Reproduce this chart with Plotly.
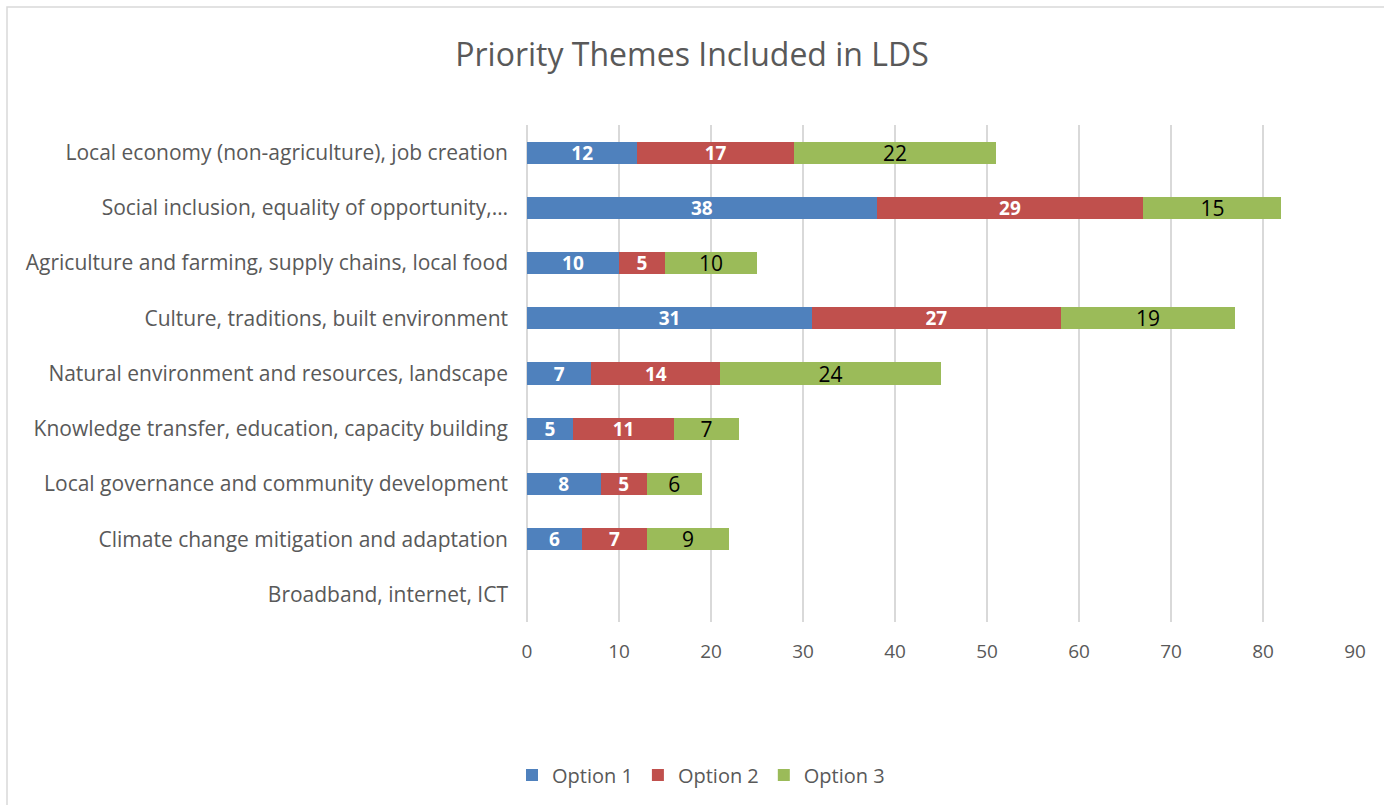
import plotly.graph_objects as go

# Themes, listed top to bottom as shown on the chart
themes = [
    "Local economy (non-agriculture), job creation",
    "Social inclusion, equality of opportunity,…",
    "Agriculture and farming, supply chains, local food",
    "Culture, traditions, built environment",
    "Natural environment and resources, landscape",
    "Knowledge transfer, education, capacity building",
    "Local governance and community development",
    "Climate change mitigation and adaptation",
    "Broadband, internet, ICT",
]

option1 = [12, 38, 10, 31, 7, 5, 8, 6, None]
option2 = [17, 29, 5, 27, 14, 11, 5, 7, None]
option3 = [22, 15, 10, 19, 24, 7, 6, 9, None]

x_ticks = [0, 10, 20, 30, 40, 50, 60, 70, 80, 90]

FONT = "Open Sans"
series = [
    ("Option 1", option1, "#4F81BD", "white", True),
    ("Option 2", option2, "#C0504D", "white", True),
    ("Option 3", option3, "#9BBB59", "black", False),
]

fig = go.Figure()
for name, vals, color, tcolor, bold in series:
    fig.add_trace(go.Bar(
        name=name,
        y=themes,
        x=vals,
        orientation="h",
        marker=dict(color=color, line=dict(width=0)),
        text=[("" if v is None else str(v)) for v in vals],
        texttemplate=("<b>%{text}</b>" if bold else "%{text}"),
        textposition="inside",
        insidetextanchor="middle",
        textangle=0,
        constraintext="none",
        textfont=dict(family=FONT, size=(19 if bold else 21), color=tcolor),
        hoverinfo="skip",
    ))

L, R, T, B = 527, 29, 125, 183
W, H = 1384, 805
pw, ph = W - L - R, H - T - B

def px_x(p):
    return (p - L) / pw

def px_y(p):
    return (H - B - p) / ph

fig.update_layout(
    width=W, height=H,
    autosize=False,
    barmode="stack",
    bargap=0.6,
    plot_bgcolor="white",
    paper_bgcolor="white",
    margin=dict(l=L, r=R, t=T, b=B, pad=0, autoexpand=False),
    title=dict(
        text="Priority Themes Included in LDS",
        x=0.5, xref="container", xanchor="center",
        y=1 - 55 / H, yref="container", yanchor="middle",
        font=dict(family=FONT, size=32, color="#595959"),
    ),
    legend=dict(
        orientation="h",
        x=px_x(701), xanchor="center", xref="paper",
        y=px_y(775), yanchor="middle", yref="paper",
        font=dict(family=FONT, size=20, color="#595959"),
        itemwidth=30,
        traceorder="normal",
    ),
    xaxis=dict(
        range=[0, 90],
        tickvals=x_ticks,
        showgrid=True,
        gridcolor="#D9D9D9",
        gridwidth=2,
        zeroline=True,
        zerolinecolor="#D9D9D9",
        zerolinewidth=2,
        showline=False,
        ticks="",
        automargin=False,
        ticklabelstandoff=16,
        tickfont=dict(family=FONT, size=19, color="#595959"),
    ),
    yaxis=dict(
        categoryorder="array",
        categoryarray=themes,
        autorange="reversed",
        showgrid=False,
        showline=False,
        ticks="",
        automargin=False,
        ticklabelstandoff=18,
        tickfont=dict(family=FONT, size=21, color="#595959"),
    ),
    shapes=[
        dict(type="rect", xref="paper", yref="paper",
             x0=px_x(7), x1=px_x(W + 20), y0=px_y(H + 20), y1=px_y(7),
             line=dict(color="#D9D9D9", width=1.5), fillcolor="rgba(0,0,0,0)",
             layer="below"),
    ],
)

fig.write_html("out.html")
